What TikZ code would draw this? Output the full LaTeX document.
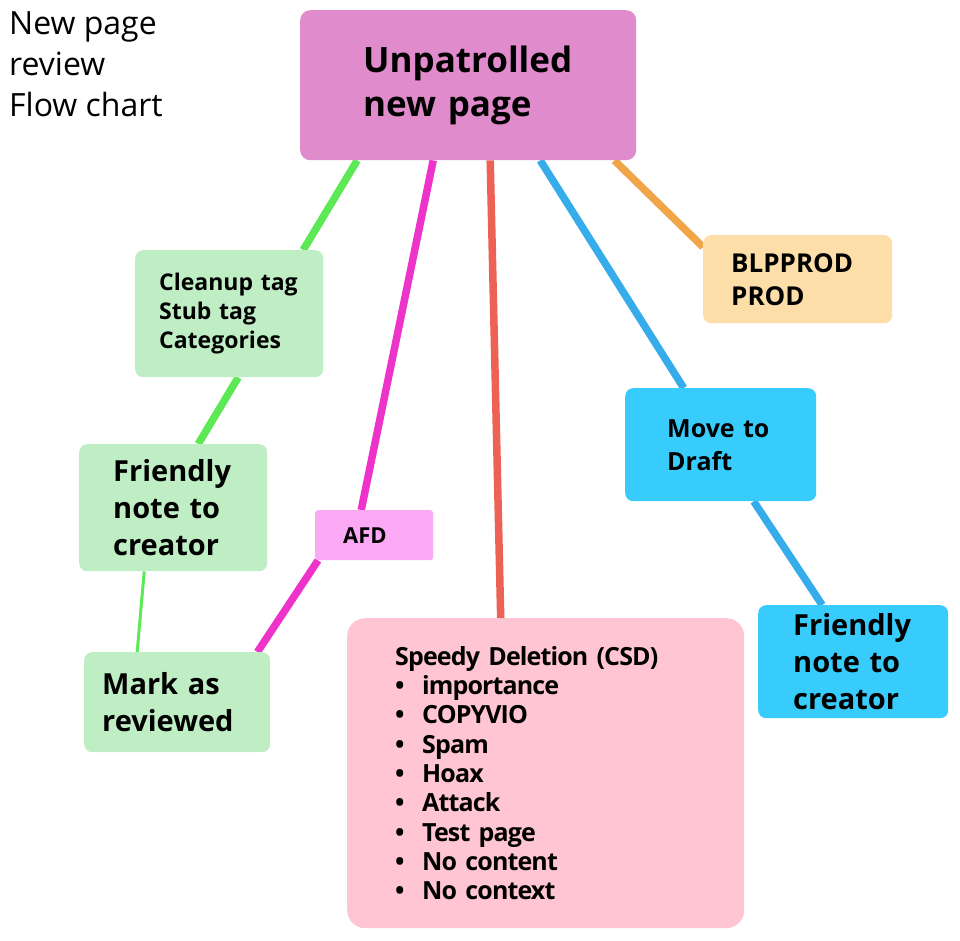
\documentclass[tikz,border=0pt]{standalone}
\usepackage{fontspec}
\setmainfont{Open Sans}
\newfontfamily\csdfont{Open Sans}[LetterSpace=-3.5]
\usetikzlibrary{calc,backgrounds}

\definecolor{mainpink}{HTML}{E08BCB}
\definecolor{palegreen}{HTML}{BFEDC4}
\definecolor{linegreen}{HTML}{5DE856}
\definecolor{linemagenta}{HTML}{EE33CA}
\definecolor{afdpink}{HTML}{FBA8F5}
\definecolor{linered}{HTML}{EE6155}
\definecolor{lineblue}{HTML}{36ACEB}
\definecolor{draftblue}{HTML}{38CCFD}
\definecolor{lineorange}{HTML}{F0A548}
\definecolor{prodorange}{HTML}{FDDEA8}
\definecolor{csdpink}{HTML}{FFC5D3}

\begin{document}
\begin{tikzpicture}[x=1bp, y=-1bp,
  box/.style={anchor=north west, rounded corners=8bp, align=left, inner ysep=0pt},
  link/.style={line width=7.5bp},
  bigtext/.style={font=\bfseries\fontsize{29bp}{37bp}\selectfont},
  midtext/.style={font=\bfseries\fontsize{25bp}{33bp}\selectfont},
]
  \useasboundingbox (0,0) rectangle (960,941);

  % title
  \node[anchor=north west, align=left, inner sep=0pt,
        font=\fontsize{32bp}{41bp}\selectfont] (title) at (9,11)
        {New page\\review\\Flow chart};

  % boxes
  \node[box, fill=mainpink, rounded corners=10bp, minimum width=336bp, minimum height=150bp,
        inner xsep=63bp, text width=210bp, font=\bfseries\fontsize{35bp}{44bp}\selectfont]
        (main) at (300,10) {Unpatrolled\\new page};
  \node[box, fill=palegreen, minimum width=188bp, minimum height=127bp,
        inner xsep=24bp, text width=140bp, font=\bfseries\fontsize{23bp}{29bp}\selectfont]
        (cleanup) at (135,250) {Cleanup~tag\\Stub~tag\\Categories};
  \node[box, fill=palegreen, minimum width=188bp, minimum height=127bp,
        inner xsep=34bp, text width=120bp, bigtext]
        (friendlyA) at (79,444) {Friendly\\note~to\\creator};
  \node[box, fill=palegreen, minimum width=186bp, minimum height=100bp,
        inner xsep=18bp, text width=150bp, bigtext]
        (mark) at (84,652) {Mark~as\\reviewed};
  \node[box, fill=afdpink, rounded corners=3bp, minimum width=118bp, minimum height=50bp,
        inner xsep=28bp, text width=62bp, font=\bfseries\fontsize{22bp}{26bp}\selectfont]
        (afd) at (315,510) {AFD};
  \node[box, fill=csdpink, rounded corners=18bp, minimum width=397bp, minimum height=310bp,
        inner xsep=48bp, text width=301bp, font=\csdfont\bfseries\fontsize{25bp}{29.3bp}\selectfont]
        (csd) at (347,618) {Speedy Deletion (CSD)\\
          \makebox[27bp][l]{•}importance\\
          \makebox[27bp][l]{•}COPYVIO\\
          \makebox[27bp][l]{•}Spam\\
          \makebox[27bp][l]{•}Hoax\\
          \makebox[27bp][l]{•}Attack\\
          \makebox[27bp][l]{•}Test page\\
          \makebox[27bp][l]{•}No content\\
          \makebox[27bp][l]{•}No context};
  \node[box, fill=prodorange, minimum width=189bp, minimum height=88bp,
        inner xsep=28bp, text width=133bp, font=\bfseries\fontsize{26bp}{33bp}\selectfont]
        (blp) at (703,235) {BLPPROD\\PROD};
  \node[box, fill=draftblue, minimum width=191bp, minimum height=113bp,
        inner xsep=42bp, text width=107bp, midtext]
        (draft) at (625,388) {Move~to\\Draft};
  \node[box, fill=draftblue, minimum width=190bp, minimum height=113bp,
        inner xsep=35bp, text width=120bp, bigtext]
        (friendlyB) at (758,605) {Friendly\\note~to\\creator};

  % connectors
  \begin{scope}[on background layer]
    \draw[link, linegreen] ($(main.south)+(-111,0)$) -- ($(cleanup.north)+(74,0)$);
    \draw[link, linegreen] ($(cleanup.south)+(9,0)$) -- ($(friendlyA.north)+(25,0)$);
    \draw[linegreen, line width=3bp] ($(friendlyA.south)+(-29,0)$) -- ($(mark.north)+(-40,0)$);
    \draw[link, linemagenta] ($(main.south)+(-35,0)$) -- ($(afd.north)+(-13,0)$);
    \draw[link, linemagenta] ($(afd.south west)+(3,0)$) -- ($(mark.north east)+(-13,0)$);
    \draw[link, linered] ($(main.south)+(22,0)$) -- ($(csd.north)+(-45,0)$);
    \draw[link, lineblue] ($(main.south)+(72,0)$) -- ($(draft.north)+(-37,0)$);
    \draw[link, lineblue] ($(draft.south)+(33,0)$) -- ($(friendlyB.north)+(-31,0)$);
    \draw[link, lineorange] ($(main.south east)+(-22,0)$) -- ($(blp.north west)+(0,12)$);
  \end{scope}
\end{tikzpicture}
\end{document}
